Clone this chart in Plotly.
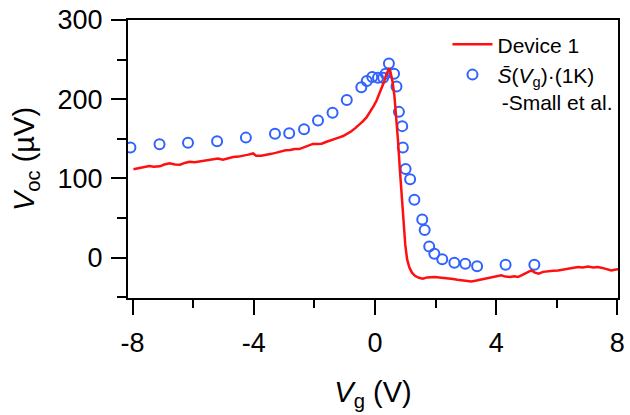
import plotly.graph_objects as go

# Device 1: open-circuit voltage vs gate voltage (µV)
vg_dev = [-7.97, -7.8, -7.6, -7.45, -7.3, -7.1, -6.95, -6.78, -6.6, -6.43, -6.28, -6.12,
          -5.95, -5.8, -5.65, -5.5, -5.35, -5.18, -5.02, -4.85, -4.68, -4.5, -4.34, -4.18,
          -4.02, -3.92, -3.75, -3.58, -3.42, -3.25, -3.1, -2.95, -2.8, -2.65, -2.5, -2.35,
          -2.2, -2.05, -1.9, -1.76, -1.62, -1.48, -1.34, -1.2, -1.05, -0.92, -0.78, -0.65,
          -0.52, -0.4, -0.28, -0.16, -0.05, 0.05, 0.14, 0.22, 0.30, 0.37, 0.43, 0.47,
          0.52, 0.58, 0.64, 0.70, 0.76, 0.82, 0.88, 0.94, 1.00, 1.06, 1.13, 1.22,
          1.32, 1.45, 1.58, 1.72, 1.85, 1.98, 2.12, 2.28, 2.42, 2.58, 2.72, 2.85,
          3.0, 3.18, 3.35, 3.51, 3.66, 3.84, 4.0, 4.17, 4.3, 4.45, 4.6, 4.72,
          4.85, 4.96, 5.06, 5.16, 5.28, 5.4, 5.55, 5.71, 5.88, 6.04, 6.2, 6.37,
          6.54, 6.70, 6.86, 7.03, 7.2, 7.36, 7.5, 7.64, 7.80, 7.95, 8.1, 8.2]
voc_dev = [111.6, 113, 114.5, 115.5, 114.8, 115.2, 117.5, 119, 117.5, 117.2, 119.5, 121,
           120.5, 121.2, 122.5, 123.5, 124, 125, 123.5, 125.5, 127, 127.5, 128.5, 130,
           131.5, 128.5, 128.5, 129.5, 131, 132.5, 134, 135.5, 135.8, 137, 137, 139,
           141.5, 143.5, 143.5, 143.8, 146, 147.5, 149.5, 151.5, 153.5, 156, 159.5, 163.5,
           167.5, 172, 177, 184, 191, 198, 206, 214, 222, 231, 237, 239,
           233, 222, 205, 180, 148, 112, 76, 43, 16, -2, -12, -19,
           -23, -25.5, -26.5, -25, -24.5, -24.5, -25, -25.5, -25.8, -27, -28, -28.6,
           -29.5, -30, -29, -27.8, -27, -25.8, -24, -22.4, -24, -24.5, -23.5, -24.5,
           -22, -20.3, -18, -16.2, -19, -20.3, -18, -17, -16.5, -16.2, -15, -14,
           -13, -12, -12.5, -11.2, -12.5, -12, -13, -14.5, -16.2, -15, -14.5, -14]

# Scaled thermopower S(Vg)·(1K), Small et al.
vg_small = [-8.07, -7.11, -6.17, -5.21, -4.26, -3.30, -2.83, -2.34, -1.88, -1.40, -0.93,
            -0.45, -0.27, -0.09, 0.10, 0.27, 0.35, 0.46, 0.63, 0.71, 0.79, 0.90, 0.92,
            1.01, 1.16, 1.30, 1.56, 1.64, 1.79, 1.96, 2.22, 2.62, 2.98, 3.37, 4.31, 5.26]
s_small = [139, 143, 145, 147, 151.5, 156.5, 157, 162, 173, 183, 199,
           215, 223, 228, 227, 227, 232, 245, 232, 216, 184, 166, 139,
           112, 99, 73, 48, 35, 14, 5, -2, -6.6, -7.8, -11, -9, -9]

# Tick positions and labels (plain hyphen for negatives)
x_ticks = [-8, -4, 0, 4, 8]
x_ticktext = ["-8", "-4", "0", "4", "8"]
x_minor = [-6, -2, 2, 6]
y_ticks = [0, 100, 200, 300]
y_minor = [-50, 50, 150, 250]

fig = go.Figure()
fig.add_trace(go.Scatter(
    x=vg_small, y=s_small, mode="markers",
    name="<i>S\u0304</i>(<i>V</i><sub>g</sub>)·(1K)<br>\u2009-Small et al.",
    marker=dict(symbol="circle-open", size=10, color="#2f62ff", line=dict(width=2, color="#2f62ff")),
    legendrank=2,
))
fig.add_trace(go.Scatter(
    x=vg_dev, y=voc_dev, mode="lines", name="Device 1",
    line=dict(color="#ff1010", width=2.5),
    legendrank=1,
))

axis_common = dict(
    showline=True, linecolor="black", linewidth=2, mirror=True,
    ticks="outside", tickcolor="black", tickwidth=2, ticklen=15,
    showgrid=False, zeroline=False,
    tickfont=dict(family="Liberation Sans, Arial", size=27, color="black"),
)

fig.update_layout(
    width=630, height=415,
    margin=dict(l=128, r=5, t=16, b=117),
    paper_bgcolor="white", plot_bgcolor="white",
    font=dict(family="Liberation Sans, Arial", color="black"),
    xaxis=dict(
        range=[-8.15, 8.02], tickmode="array", tickvals=x_ticks, ticktext=x_ticktext,
        minor=dict(tickmode="array", tickvals=x_minor, ticks="outside", ticklen=8,
                   tickwidth=2, tickcolor="black"),
        ticklabelstandoff=5,
        title=dict(text="<i>V</i><sub>g</sub> (V)", font=dict(size=29), standoff=24),
        **axis_common,
    ),
    yaxis=dict(
        range=[-51, 300], tickmode="array", tickvals=y_ticks,
        minor=dict(tickmode="array", tickvals=y_minor, ticks="outside", ticklen=9,
                   tickwidth=2, tickcolor="black"),
        ticklabelstandoff=3,
        title=dict(text="<i>V</i><sub>oc</sub> (µV)", font=dict(size=29), standoff=14),
        **axis_common,
    ),
    legend=dict(
        x=0.652, y=0.985, xanchor="left", yanchor="top",
        bgcolor="rgba(0,0,0,0)", borderwidth=0,
        font=dict(family="Liberation Sans, Arial", size=21, color="black"),
        itemwidth=40, valign="top",
    ),
    showlegend=True,
)

fig.write_html("out.html")
